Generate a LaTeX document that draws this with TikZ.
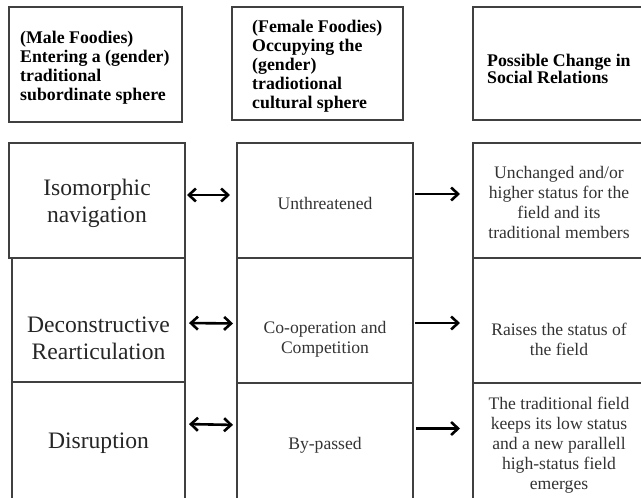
\documentclass[tikz,border=0pt]{standalone}
\usepackage{fontspec}
\setmainfont{Liberation Serif}
\usetikzlibrary{arrows.meta}

\tikzset{
	cell/.style={draw=black!75,line width=1.4pt,inner sep=0pt,outer sep=0pt,anchor=north west},
	headtxt/.style={anchor=west,align=left,inner sep=0pt,font=\bfseries\fontsize{17.8}{19}\selectfont},
	bigtxt/.style={align=center,inner sep=0pt,text=black!85,font=\fontsize{23.6}{27}\selectfont},
	smalltxt/.style={align=center,inner sep=0pt,text=black!80,font=\fontsize{17.6}{20}\selectfont},
	tip/.tip={Straight Barb[length=7pt,width=13pt]},
	link/.style={line width=2.6pt,-tip},
	dlink/.style={line width=2.6pt,tip-tip}
}

\begin{document}
\begin{tikzpicture}[x=1pt,y=-1pt]
	\useasboundingbox (0,0) rectangle (641,498);
	% column heads
	\node[cell,minimum width=173pt,minimum height=115pt] (h1) at (9,7) {};
	\node[cell,minimum width=171pt,minimum height=113pt] (h2) at (232,7) {};
	\node[cell,minimum width=175pt,minimum height=113pt] (h3) at (473,7) {};
	\node[headtxt] (h1t) at ([xshift=11pt,yshift=-3pt]h1.west) {(Male Foodies)\\Entering a (gender)\\traditional\\subordinate sphere};
	\node[headtxt] (h2t) at ([xshift=20pt,yshift=-2.5pt]h2.west) {(Female Foodies)\\Occupying the\\(gender)\\tradiotional\\cultural sphere};
	\node[headtxt,font=\bfseries\fontsize{17.8}{16}\selectfont] (h3t) at ([xshift=14pt,yshift=-5.5pt]h3.west) {Possible Change in\\Social Relations};
	% rows
	\node[cell,minimum width=176pt,minimum height=115pt] (L1) at (9,143) {};
	\node[cell,minimum width=173pt,minimum height=124pt] (L2) at (12,258) {};
	\node[cell,minimum width=173pt,minimum height=130pt] (L3) at (12,382) {};
	\node[cell,minimum width=176pt,minimum height=115pt] (M1) at (237,143) {};
	\node[cell,minimum width=176pt,minimum height=125pt] (M2) at (237,258) {};
	\node[cell,minimum width=176pt,minimum height=130pt] (M3) at (237,383) {};
	\node[cell,minimum width=172pt,minimum height=115pt] (R1) at (473,143) {};
	\node[cell,minimum width=172pt,minimum height=125pt] (R2) at (473,258) {};
	\node[cell,minimum width=172pt,minimum height=130pt] (R3) at (473,383) {};
	% texts
	\node[bigtxt] (L1t) at ([yshift=-3pt]L1.center) {Isomorphic\\navigation};
	\node[bigtxt] (L2t) at ([yshift=-18.5pt]L2.center) {Deconstructive\\Rearticulation};
	\node[bigtxt] (L3t) at ([yshift=3.5pt]L3.center) {Disruption};
	\node[smalltxt] (M1t) at ([yshift=-2.5pt]M1.center) {Unthreatened};
	\node[smalltxt] (M2t) at ([yshift=-18.5pt]M2.center) {Co-operation and\\Competition};
	\node[smalltxt] (M3t) at ([yshift=3pt]M3.center) {By-passed};
	\node[smalltxt] (R1t) at ([yshift=-2pt]R1.center) {Unchanged and/or\\higher status for the\\field and its\\traditional members};
	\node[smalltxt] (R2t) at ([yshift=-18.5pt]R2.center) {Raises the status of\\the field};
	\node[smalltxt] (R3t) at ([yshift=3pt]R3.center) {The traditional field\\keeps its low status\\and a new parallell\\high-status field\\emerges};
	% arrows
	\draw[dlink,shorten <=2pt,shorten >=7pt] ([yshift=5.5pt]L1.east) -- ([yshift=5.5pt]M1.west);
	\draw[link,shorten <=2pt,shorten >=13pt] ([yshift=6.5pt]M1.east) -- ([yshift=6.5pt]R1.west);
	\draw[dlink,shorten <=4pt,shorten >=4pt] ([yshift=-3pt]L2.east) -- ([yshift=-3pt]M2.west);
	\draw[link,shorten <=2pt,shorten >=13pt] ([yshift=-2.5pt]M2.east) -- ([yshift=-2.5pt]R2.west);
	\draw[dlink,shorten <=4pt,shorten >=4pt] ([yshift=23pt]L3.east) -- ([yshift=23pt]M3.west);
	\draw[link,shorten <=3pt,shorten >=13pt] ([yshift=19.5pt]M3.east) -- ([yshift=19.5pt]R3.west);
\end{tikzpicture}
\end{document}
